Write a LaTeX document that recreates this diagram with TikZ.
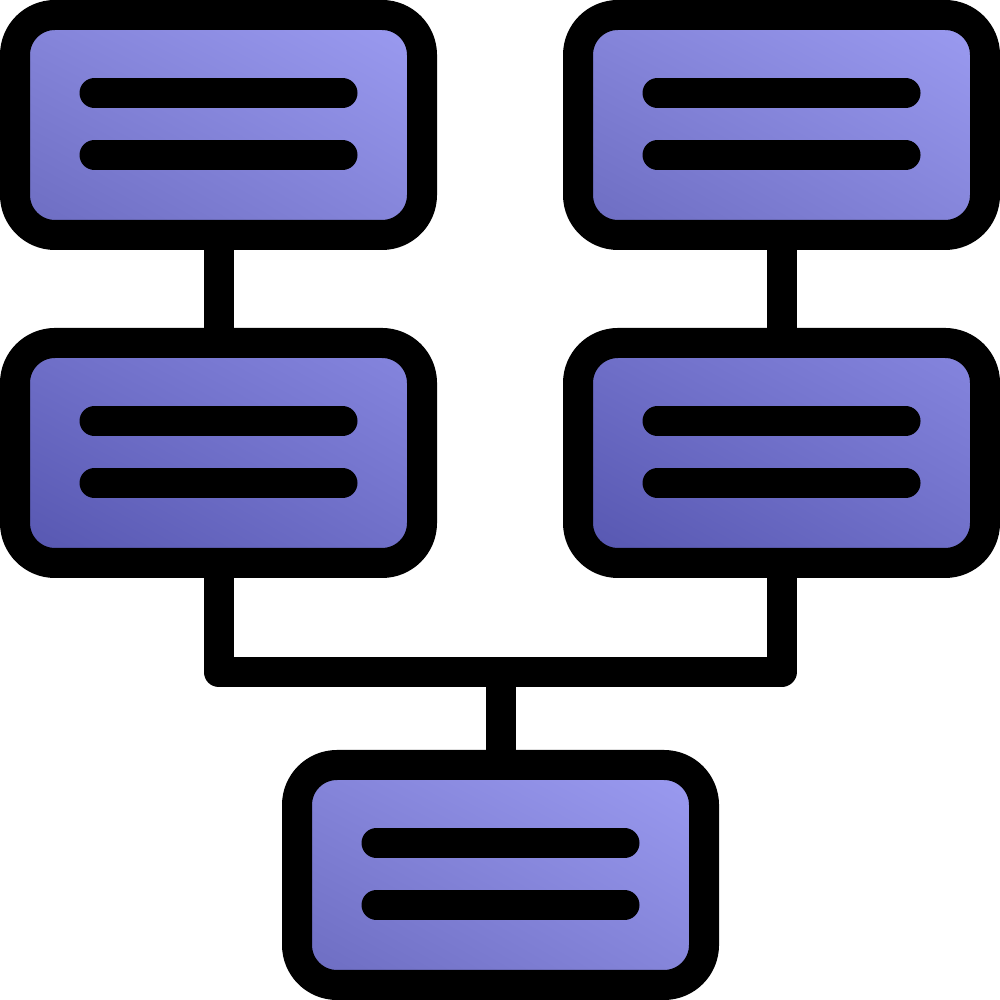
\documentclass[tikz,border=0pt]{standalone}
\usetikzlibrary{calc,shadings}
\definecolor{boxhi}{HTML}{9C9CF2}
\definecolor{boxmid}{HTML}{8585DA}
\definecolor{boxlo}{HTML}{6B6BC0}
\definecolor{darkhi}{HTML}{8787E0}
\definecolor{darkmid}{HTML}{6F6FC8}
\definecolor{darklo}{HTML}{5555AF}
\begin{document}
\begin{tikzpicture}[line width=.3cm, line join=round,
  box/.style={draw, rounded corners=.4cm, minimum width=4.07cm, minimum height=2.2cm, inner sep=0pt, shade},
  lightbox/.style={box, upper right=boxhi, lower left=boxlo, upper left=boxmid, lower right=boxmid},
  darkbox/.style={box, upper right=darkhi, lower left=darklo, upper left=darkmid, lower right=darkmid},
  bar/.style={line cap=round}]
\useasboundingbox (0,0) rectangle (10,10);

\node[lightbox] (tl) at (2.185,8.75) {};
\node[lightbox] (tr) at (7.815,8.75) {};
\node[darkbox] (ml) at (2.185,5.47) {};
\node[darkbox] (mr) at (7.815,5.47) {};
\node[lightbox] (bt) at (5.005,1.25) {};
\coordinate (bus) at (5.005,3.28);

\foreach \b in {tl,tr,ml,mr,bt}
{
    \draw[bar] ($(\b)+(-1.24,.32)$)--($(\b)+(1.24,.32)$);
    \draw[bar] ($(\b)+(-1.24,-.30)$)--($(\b)+(1.24,-.30)$);
}

\draw (tl.south)--(ml.north);
\draw (tr.south)--(mr.north);
\draw (ml.south) |- (bus) -| (mr.south);
\draw (bus)--(bt.north);
\end{tikzpicture}
\end{document}
